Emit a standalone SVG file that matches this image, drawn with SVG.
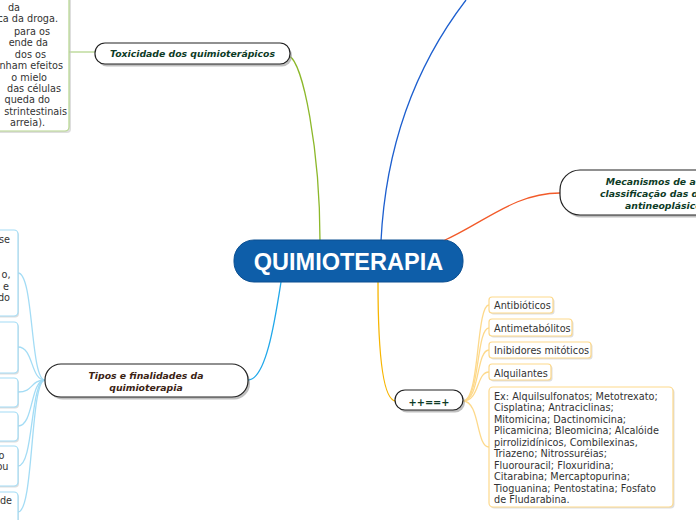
<svg xmlns="http://www.w3.org/2000/svg" width="696" height="520" viewBox="0 0 696 520">
<style>
.bg{fill:#ffffff}
.pill{fill:#ffffff;stroke:#222;stroke-width:1.2}
.shadow{fill:#8a8a8a;opacity:.55}
.lbl{font-family:"DejaVu Sans",Verdana,sans-serif;font-size:9.3px;font-weight:bold;font-style:italic;text-anchor:middle}
.g{fill:#0d3b26}
.br{fill:#3b2314}
.sub{font-family:"DejaVu Sans",Verdana,sans-serif;font-size:9.7px;fill:#333}
.end{text-anchor:end}
.boxY{fill:#fff;stroke:#fdd98b;stroke-width:1.2}
.boxB{fill:#fff;stroke:#a3dcf5;stroke-width:1.2}
.boxG{fill:#fff;stroke:#b5d68e;stroke-width:1.2}
.bsh{fill:#c8c8c8;opacity:.6}
.c{fill:none;stroke-width:1.3}
</style>
<rect class="bg" x="0" y="0" width="696" height="520"/>

<g id="connectors">
  <path class="c" stroke="#b5d68e" d="M69,52 L95,52"/>
  <path class="c" stroke="#8cb82a" d="M289,56 C303,62 320,150 320,241"/>
  <path class="c" stroke="#1d5fcf" d="M381,241 C386,140 420,60 466,0"/>
  <path class="c" stroke="#f25a29" d="M443,241 C485,222 515,193 560,193"/>
  <path class="c" stroke="#f7b500" d="M378,282 C378,345 382,401 396,401"/>
  <path class="c" stroke="#21a8ea" d="M248,380 C266,380 275,320 281,282"/>
  <g stroke="#fdd98b">
    <path class="c" d="M463,401 C480,401 476,305 489,305"/>
    <path class="c" d="M463,401 C480,401 476,328 489,328"/>
    <path class="c" d="M463,401 C480,401 476,350 489,350"/>
    <path class="c" d="M463,401 C480,401 476,372 489,372"/>
    <path class="c" d="M463,401 C480,401 476,447 489,447"/>
  </g>
  <g stroke="#a3dcf5">
    <path class="c" d="M45,380 C30,380 34,273 18,273"/>
    <path class="c" d="M45,380 C30,380 34,347 18,347"/>
    <path class="c" d="M45,380 C30,380 34,392 18,392"/>
    <path class="c" d="M45,380 C30,380 34,426 18,426"/>
    <path class="c" d="M45,380 C30,380 34,466 18,466"/>
    <path class="c" d="M45,380 C30,380 34,512 18,512"/>
  </g>
</g>

<g id="node-central">
  <rect x="234" y="240" width="229" height="42" rx="20" fill="#0e5ea9" stroke="#0b4f91" stroke-width="1"/>
  <text x="348.5" y="270" text-anchor="middle" font-family="'Liberation Sans',Arial,sans-serif" font-size="23.5" font-weight="bold" fill="#ffffff">QUIMIOTERAPIA</text>
</g>

<g id="node-toxicidade">
  <rect class="shadow" x="97" y="45.5" width="195" height="21" rx="10"/>
  <rect class="pill" x="95" y="43" width="195" height="21" rx="10"/>
  <text class="lbl g" x="192.5" y="57">Toxicidade dos quimioterápicos</text>
</g>

<g id="node-toxicidade-text">
  <rect class="bsh" x="-8" y="-8" width="79" height="141" rx="4"/>
  <rect class="boxG" x="-10" y="-10" width="79" height="141" rx="4"/>
  <g class="sub end">
    <text x="20" y="10.5">da</text>
    <text x="58" y="22">ca da droga.</text>
    <text x="50" y="34.5">para os</text>
    <text x="48" y="46">ende da</text>
    <text x="46" y="57.5">dos os</text>
    <text x="63" y="69">nham efeitos</text>
    <text x="47" y="80.5">o mielo</text>
    <text x="61" y="92">das células</text>
    <text x="50" y="103">queda do</text>
    <text x="67" y="114.5">strintestinais</text>
    <text x="45" y="126">arreia).</text>
  </g>
</g>

<g id="node-mecanismos">
  <rect class="shadow" x="562" y="172.5" width="160" height="45" rx="20"/>
  <rect class="pill" x="560" y="170" width="160" height="45" rx="20"/>
  <g font-family="'DejaVu Sans',Verdana,sans-serif" font-size="9.3" font-weight="bold" font-style="italic" fill="#0d3b26">
    <text x="605.7" y="185">Mecanismos de ação e</text>
    <text x="600" y="197">classificação das drogas</text>
    <text x="625" y="209">antineoplásicos</text>
  </g>
</g>

<g id="node-sinal">
  <rect class="shadow" x="397" y="392.5" width="68" height="20" rx="10"/>
  <rect class="pill" x="395" y="390" width="68" height="20" rx="10"/>
  <text x="429" y="406" text-anchor="middle" font-family="'DejaVu Sans',Verdana,sans-serif" font-size="9.8" font-weight="bold" fill="#0d3b26">++==+</text>
</g>

<g id="node-antibioticos">
  <rect class="bsh" x="490.5" y="298.5" width="64" height="16" rx="3"/>
  <rect class="boxY" x="489" y="297" width="64" height="16" rx="3"/>
  <text class="sub" x="494" y="309">Antibióticos</text>
</g>
<g id="node-antimetabolitos">
  <rect class="bsh" x="490.5" y="320.5" width="83" height="17" rx="3"/>
  <rect class="boxY" x="489" y="319" width="83" height="17" rx="3"/>
  <text class="sub" x="494" y="331.5">Antimetabólitos</text>
</g>
<g id="node-inibidores">
  <rect class="bsh" x="490.5" y="343.5" width="102" height="16" rx="3"/>
  <rect class="boxY" x="489" y="342" width="102" height="16" rx="3"/>
  <text class="sub" x="494" y="354">Inibidores mitóticos</text>
</g>
<g id="node-alquilantes">
  <rect class="bsh" x="490.5" y="365.5" width="62" height="16" rx="3"/>
  <rect class="boxY" x="489" y="364" width="62" height="16" rx="3"/>
  <text class="sub" x="494" y="376.5">Alquilantes</text>
</g>
<g id="node-exemplos">
  <rect class="bsh" x="490.5" y="388.5" width="184" height="120" rx="4"/>
  <rect class="boxY" x="489" y="387" width="184" height="120" rx="4"/>
  <g class="sub">
    <text x="494" y="399.5">Ex: Alquilsulfonatos; Metotrexato;</text>
    <text x="494" y="411">Cisplatina; Antraciclinas;</text>
    <text x="494" y="422.5">Mitomicina; Dactinomicina;</text>
    <text x="494" y="434">Plicamicina; Bleomicina; Alcalóide</text>
    <text x="494" y="445.5">pirrolizidínicos, Combilexinas,</text>
    <text x="494" y="457">Triazeno; Nitrossuréias;</text>
    <text x="494" y="468.5">Fluorouracil; Floxuridina;</text>
    <text x="494" y="480">Citarabina; Mercaptopurina;</text>
    <text x="494" y="491.5">Tioguanina; Pentostatina; Fosfato</text>
    <text x="494" y="503">de Fludarabina.</text>
  </g>
</g>

<g id="node-tipos">
  <rect class="shadow" x="47" y="366.5" width="203" height="33" rx="16"/>
  <rect class="pill" x="45" y="364" width="203" height="33" rx="16"/>
  <text class="lbl br" x="146" y="379">Tipos e finalidades da</text>
  <text class="lbl br" x="146" y="391">quimioterapia</text>
</g>

<g id="node-tipo-1">
  <rect class="bsh" x="-8" y="231.5" width="27" height="86" rx="4"/>
  <rect class="boxB" x="-10" y="230" width="28" height="86" rx="4"/>
  <g class="sub end">
    <text x="10" y="243">se</text>
    <text x="10.5" y="278">o,</text>
    <text x="9" y="289.5">e</text>
    <text x="10" y="301">do</text>
  </g>
</g>
<g id="node-tipo-2">
  <rect class="bsh" x="-8" y="323.5" width="27" height="51" rx="4"/>
  <rect class="boxB" x="-10" y="322" width="28" height="51" rx="4"/>
</g>
<g id="node-tipo-3">
  <rect class="bsh" x="-8" y="379.5" width="27" height="29" rx="4"/>
  <rect class="boxB" x="-10" y="378" width="28" height="29" rx="4"/>
</g>
<g id="node-tipo-4">
  <rect class="bsh" x="-8" y="413.5" width="27" height="29" rx="4"/>
  <rect class="boxB" x="-10" y="412" width="28" height="29" rx="4"/>
</g>
<g id="node-tipo-5">
  <rect class="bsh" x="-8" y="447.5" width="27" height="40" rx="4"/>
  <rect class="boxB" x="-10" y="446" width="28" height="40" rx="4"/>
  <g class="sub end">
    <text x="4.5" y="458.5">o</text>
    <text x="8.5" y="470">ou</text>
  </g>
</g>
<g id="node-tipo-6">
  <rect class="bsh" x="-8" y="493.5" width="27" height="40" rx="4"/>
  <rect class="boxB" x="-10" y="492" width="28" height="40" rx="4"/>
  <text class="sub end" x="12" y="504">de</text>
</g>
</svg>
